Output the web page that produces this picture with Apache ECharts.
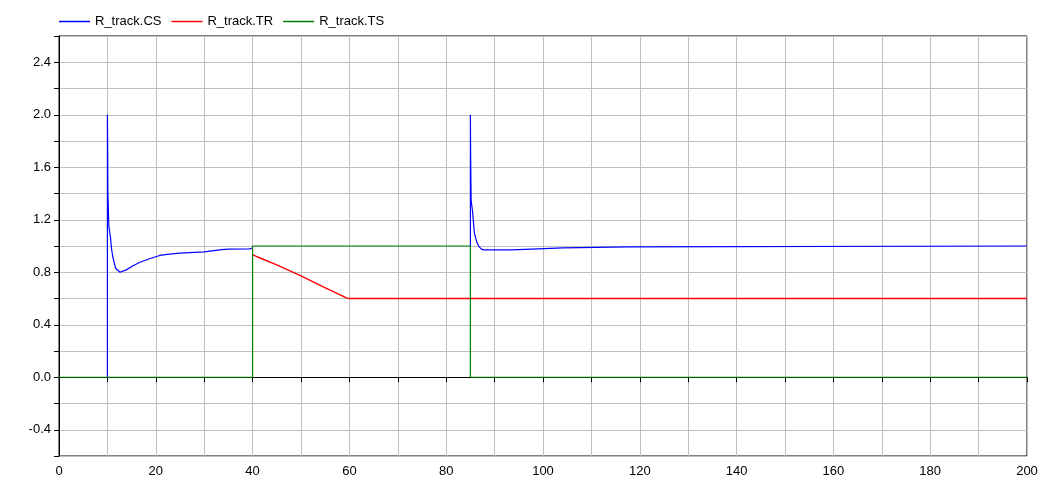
<!DOCTYPE html>
<html>
<head>
<meta charset="utf-8">
<script src="https://cdn.jsdelivr.net/npm/echarts@6/dist/echarts.min.js"></script>
<style>
html,body{margin:0;padding:0;background:#fff;}
#chart{width:1052px;height:481px;}
</style>
</head>
<body>
<div id="chart"></div>
<script>
// Series names
const seriesNames = ['R_track.CS', 'R_track.TR', 'R_track.TS'];

// R_track.CS (blue); null = hidden behind R_track.TS (gap)
const csTime  = [10, 10, 10.05, 10.1, 10.3, 10.65, 10.85, 11.1, 11.7, 12.6, 13.9, 15.3, 16.6, 18.7, 20.8, 22.8, 24.9, 27, 30, 33.6, 35, 39.4, 40, 40,
                 85, 85, 85.05, 85.15, 85.48, 85.62, 85.83, 86.1, 86.37, 86.78, 87.28, 87.8, 93.3, 93.4, 97.7, 97.8, 104.1, 104.2, 117.7, 117.8, 200];
const csValue = [0, 2.0, 1.79, 1.40, 1.15, 1.06, 0.98, 0.92, 0.83, 0.80, 0.818, 0.849, 0.874, 0.903, 0.928, 0.938, 0.945, 0.95, 0.955, 0.972, 0.976, 0.978, 0.985, null,
                 1.0, 2.0, 1.69, 1.35, 1.25, 1.186, 1.097, 1.06, 1.026, 0.995, 0.976, 0.970, 0.970, 0.976, 0.976, 0.985, 0.985, 0.993, 0.993, 1.0, 1.0];

// R_track.TR (red)
const trTime  = [40, 40.8, 45, 50, 54.5, 59.5, 60, 200];
const trValue = [0.935, 0.92, 0.856, 0.772, 0.691, 0.603, 0.6, 0.6];

// R_track.TS (green)
const tsTime  = [0, 40, 40, 85, 85, 200];
const tsValue = [0, 0, 1, 1, 0, 0];

// Axis settings
const xMin = 0, xMax = 200, xStep = 10, xLabelStep = 20;
const yMin = -0.6, yMax = 2.6, yStep = 0.2, yLabelStep = 0.4;

const colors = ['#0000ff', '#ff0000', '#008000'];

function pairs(t, v) { return t.map((x, i) => [x, v[i] === null ? '-' : v[i]]); }

const chart = echarts.init(document.getElementById('chart'), null, {renderer: 'canvas'});
const font = 'Liberation Sans, Arial, Helvetica, sans-serif';

chart.setOption({
  animation: false,
  backgroundColor: '#ffffff',
  legend: {
    left: 59, top: 15, padding: 0,
    icon: 'rect',
    itemWidth: 31, itemHeight: 1.5, itemGap: 10,
    textStyle: {fontFamily: font, fontSize: 13, color: '#000'},
    data: seriesNames
  },
  grid: {
    left: 59, right: 25, top: 36, bottom: 25,
    show: true, borderColor: '#000', borderWidth: 1,
    containLabel: false
  },
  xAxis: {
    type: 'value', min: xMin, max: xMax, interval: xStep,
    axisLine: {show: true, lineStyle: {color: '#000', width: 1}},
    axisTick: {show: true, length: 5, lineStyle: {color: '#000'}},
    axisLabel: {
      fontFamily: font, fontSize: 13, color: '#000', margin: 9,
      formatter: v => (Math.abs(v % xLabelStep) < 1e-6 ? String(v) : '')
    },
    splitLine: {show: true, lineStyle: {color: '#c0c0c0', width: 1}}
  },
  yAxis: {
    type: 'value', min: yMin, max: yMax, interval: yStep,
    axisLine: {show: true, lineStyle: {color: '#000', width: 1}},
    axisTick: {show: true, length: 5, lineStyle: {color: '#000'}},
    axisLabel: {
      fontFamily: font, fontSize: 13, color: '#000', margin: 8,
      formatter: v => {
        const r = Math.round(v * 10) / 10;
        const k = r / yLabelStep;
        if (Math.abs(k - Math.round(k)) > 1e-6) return '';
        if (r === yMax || r === yMin) return '';
        return r.toFixed(1);
      }
    },
    splitLine: {show: true, lineStyle: {color: '#c0c0c0', width: 1}}
  },
  series: [
    {name: seriesNames[0], type: 'line', data: pairs(csTime, csValue), showSymbol: false, symbol: 'none', connectNulls: false,
     lineStyle: {color: colors[0], width: 1.2}, itemStyle: {color: colors[0]}},
    {name: seriesNames[1], type: 'line', data: pairs(trTime, trValue), showSymbol: false, symbol: 'none',
     lineStyle: {color: colors[1], width: 1.4}, itemStyle: {color: colors[1]}},
    {name: seriesNames[2], type: 'line', data: pairs(tsTime, tsValue), showSymbol: false, symbol: 'none',
     lineStyle: {color: colors[2], width: 1.2}, itemStyle: {color: colors[2]}}
  ]
});
</script>
</body>
</html>
